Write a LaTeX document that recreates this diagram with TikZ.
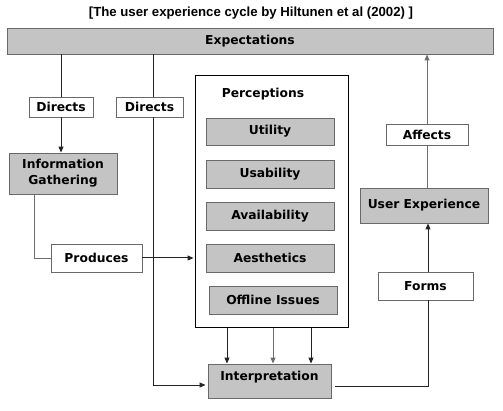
\documentclass[tikz,border=0pt]{standalone}
\usepackage{fontspec}
\setmainfont{DejaVu Sans}
\newfontfamily\titlefont{Liberation Sans}
\usetikzlibrary{arrows.meta, positioning}
\definecolor{boxfill}{RGB}{196,196,196}
\definecolor{boxline}{RGB}{105,105,105}
\definecolor{linkdark}{RGB}{35,35,35}
\definecolor{linkgray}{RGB}{110,110,110}

\begin{document}
\begin{tikzpicture}[x=1pt, y=-1pt, >={Triangle[length=6pt,width=5pt]},
    every node/.style={font=\bfseries\fontsize{12.3}{16}\selectfont, inner sep=0pt},
    greybox/.style={draw=boxline, fill=boxfill, line width=0.9pt},
    whitebox/.style={draw=boxline, fill=white, line width=0.9pt},
    link/.style={linkdark, line width=1pt},
    softlink/.style={linkgray, line width=0.9pt}]
  \useasboundingbox (0,0) rectangle (503,411);
  % Title
  \node[font=\titlefont\bfseries\fontsize{13.2}{15}\selectfont] (title) at (251,13)
    {[The user experience cycle by Hiltunen et al (2002) ]};
  % Top bar
  \node[greybox, minimum width=486pt, minimum height=26pt] (expect) at (250,41) {Expectations};
  % Left side
  \node[whitebox, minimum width=64pt, minimum height=20pt] (dir1) at (61,107) {Directs};
  \node[whitebox, minimum width=67pt, minimum height=20pt] (dir2) at (149.5,107) {Directs};
  \node[greybox, minimum width=108pt, minimum height=41pt, align=center] (info) at (63,173.5)
    {Information\\Gathering};
  \node[whitebox, minimum width=91pt, minimum height=28pt] (prod) at (96.5,258) {Produces};
  % Perceptions
  \node[draw, line width=1pt, minimum width=153pt, minimum height=252pt] (percep) at (271.5,202) {};
  \node (perceptitle) at (263,94) {Perceptions};
  \node[greybox, minimum width=128pt, minimum height=27pt] (util) at (270,131.5) {Utility};
  \node[greybox, minimum width=128pt, minimum height=28pt] (usab) at (270,174) {Usability};
  \node[greybox, minimum width=128pt, minimum height=28pt] (avail) at (270,216) {Availability};
  \node[greybox, minimum width=128pt, minimum height=28pt] (aesth) at (270,258) {Aesthetics};
  \node[greybox, minimum width=128pt, minimum height=28pt] (offline) at (273,300) {Offline Issues};
  % Bottom
  \node[greybox, minimum width=123pt, text height=12pt, text depth=14pt, inner ysep=4pt] (interp) at (269.5,381)
    {Interpretation};
  % Right side
  \node[whitebox, minimum width=95pt, minimum height=28pt] (forms) at (425.5,286) {Forms};
  \node[greybox, minimum width=128pt, minimum height=35pt] (ux) at (424,205.5) {User Experience};
  \node[whitebox, minimum width=82pt, minimum height=21pt] (affects) at (427,134.5) {Affects};
  % Connectors
  \coordinate (bend) at (153,385);
  \draw[link] (expect.south -| dir1) -- (dir1.north);
  \draw[link,->] (dir1.south) -- (info.north -| dir1);
  \draw[link] (expect.south -| bend) -- (dir2.north -| bend);
  \draw[link,->] (dir2.south -| bend) -- (bend) -- ([xshift=-2pt]interp.west |- bend);
  \draw[softlink] ([xshift=-29pt]info.south) |- (prod.west);
  \draw[link,->] (prod.east) -- ([xshift=-1pt]percep.west |- prod.east);
  \foreach \x/\c in {227/link,273/softlink,311/link}
    \draw[\c,->] (percep.south -| \x,0) -- (interp.north -| \x,0);
  \draw[link] ([xshift=4pt,yshift=-5pt]interp.east) -| ([xshift=2.5pt]forms.south);
  \draw[link,->] ([xshift=2.5pt]forms.north) -- ([xshift=4pt]ux.south);
  \draw[softlink] (ux.north -| affects) -- (affects.south);
  \draw[softlink,->] (affects.north) -- (expect.south -| affects);
\end{tikzpicture}
\end{document}
